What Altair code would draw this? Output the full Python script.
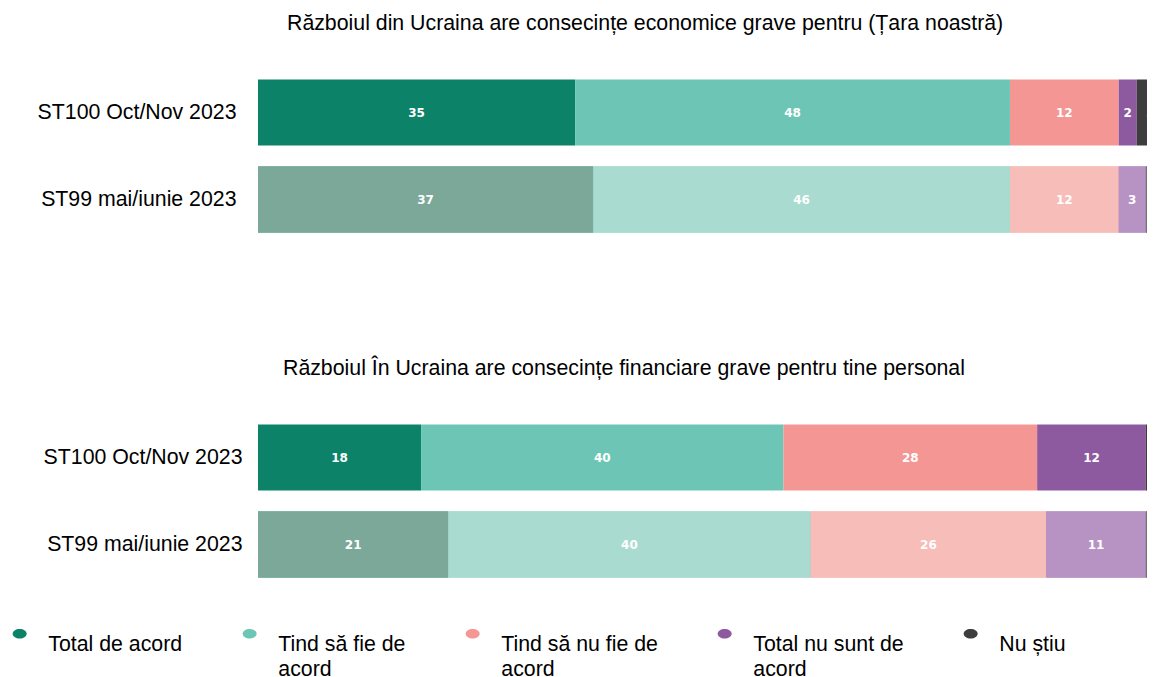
import altair as alt
import pandas as pd

rows = ["ST100 Oct/Nov 2023", "ST99 mai/iunie 2023"]
categories = ["Total de acord", "Tind să fie de acord", "Tind să nu fie de acord",
              "Total nu sunt de acord", "Nu știu"]
p1_st100 = [35, 48, 12, 2, 3]
p1_st99 = [37, 46, 12, 3, 2]
p2_st100 = [18, 40, 28, 12, 2]
p2_st99 = [21, 40, 26, 11, 2]
title1 = "Războiul din Ucraina are consecințe economice grave pentru (Țara noastră)"
title2 = "Războiul În Ucraina are consecințe financiare grave pentru tine personal"
colors_current = ["#0c8269", "#6dc6b5", "#f49794", "#8e5a9f", "#3d3d3d"]
colors_previous = ["#7ba899", "#aadbd0", "#f7bdb8", "#b693c2", "#787070"]
shades = [c + " (ST99)" for c in categories]

FONT = "Liberation Sans"
FS = 21.3


def make_df(cur, prev):
    recs = []
    for i, c in enumerate(categories):
        recs.append({"row": rows[0], "cat": c, "value": cur[i], "ord": i, "wave": "cur", "shade": c})
        recs.append({"row": rows[1], "cat": c, "value": prev[i], "ord": i, "wave": "prev", "shade": shades[i]})
    return pd.DataFrame(recs)


xscale = alt.Scale(domain=[0, 100], range=[0, 906], nice=False, zero=True)
yscale = alt.Scale(domain=rows, paddingInner=0.24, paddingOuter=0.12)


def panel(df, title, title_dx, label_pad, legend):
    base = alt.Chart(df).transform_stack(
        stack="value", as_=["x0", "x1"], groupby=["row"],
        sort=[alt.SortField("ord", order="ascending")]
    ).transform_calculate(xm="(datum.x0 + datum.x1) / 2")

    yaxis = alt.Axis(title=None, domain=False, ticks=False, labelFont=FONT,
                     labelFontSize=FS, labelColor="#000000", labelPadding=label_pad,
                     labelLimit=400)
    yenc = alt.Y("row:N", sort=rows, scale=yscale, axis=yaxis)
    bars = base.mark_bar(clip=True).encode(
        x=alt.X("x0:Q", scale=xscale, axis=None),
        x2="x1:Q",
        y=yenc,
        color=alt.Color("cat:N", scale=alt.Scale(domain=categories, range=colors_current),
                        legend=legend),
    )
    prev_bars = base.transform_filter("datum.wave == 'prev'").mark_bar(clip=True).encode(
        x=alt.X("x0:Q", scale=xscale, axis=None),
        x2="x1:Q",
        y=yenc,
        color=alt.Color("shade:N", scale=alt.Scale(domain=shades, range=colors_previous),
                        legend=None),
    )
    labels = base.mark_text(clip=True, color="white", font="DejaVu Sans", fontWeight="bold",
                            fontSize=12).encode(
        x=alt.X("xm:Q", scale=xscale, axis=None),
        y=yenc,
        text="value:Q",
    )
    return alt.layer(bars, prev_bars, labels).resolve_scale(color="independent").properties(
        width=889, height=174,
        title=alt.TitleParams(title, anchor="start", frame="group", dx=title_dx, offset=35,
                              fontSize=FS, font=FONT, fontWeight="normal", color="#000000"),
    )


legend = alt.Legend(
    orient="none", legendX=-249, legendY=209, direction="horizontal", title=None,
    symbolType="M-1,0A1,0.68,0,1,0,1,0A1,0.68,0,1,0,-1,0Z", symbolSize=196,
    symbolStrokeWidth=0,
    labelFont=FONT, labelFontSize=FS, labelColor="#000000", labelOffset=18,
    labelBaseline="top", labelLimit=400, columnPadding=56,
    labelExpr="length(datum.label) > 14 ? [slice(datum.label, 0, lastindexof(datum.label, ' ')), "
              "slice(datum.label, lastindexof(datum.label, ' ') + 1)] : [datum.label, ' ']",
)

p1 = panel(make_df(p1_st100, p1_st99), title1, 29, 22, None)
p2 = panel(make_df(p2_st100, p2_st99), title2, 25, 16, legend)

chart = alt.vconcat(p1, p2, spacing=114).resolve_scale(color="independent").properties(
    padding={"left": 1, "top": 4, "right": 0, "bottom": 0}
).configure(
    style={"guide-label": {"lineHeight": 25}}
).configure_view(stroke=None)

chart.save("out.html", embed_options={"renderer": "svg", "actions": False})
